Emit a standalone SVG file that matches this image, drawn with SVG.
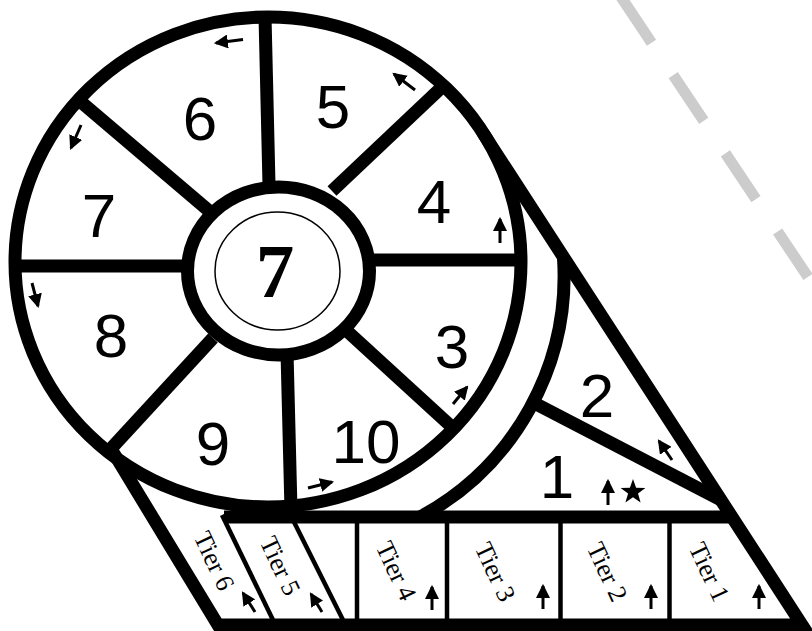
<svg xmlns="http://www.w3.org/2000/svg" width="812" height="631" viewBox="0 0 812 631">
<defs>
<style>
.k{fill:none;stroke:#000;stroke-width:13;}
.thin{fill:none;stroke:#000;stroke-width:4.5;}
.num{font-family:"Liberation Sans",Arial,sans-serif;font-size:62px;text-anchor:middle;fill:#000;}
.tier{font-family:"Liberation Serif","Times New Roman",serif;font-size:26px;text-anchor:middle;dominant-baseline:central;fill:#000;}
.arr{stroke:#000;stroke-width:3;fill:none;marker-end:url(#ah);}
</style>
<marker id="ah" viewBox="0 0 10 10" refX="8.5" refY="5" markerWidth="14" markerHeight="14" markerUnits="userSpaceOnUse" orient="auto">
<path d="M0,0 L10,5 L0,10 z" fill="#000"/>
</marker>
</defs>
<rect width="812" height="631" fill="#fff"/>

<g id="dashed-line">
<path d="M621,-3 L808,277" fill="none" stroke="#cccccc" stroke-width="11" stroke-dasharray="55 39"/>
</g>

<g id="outline">
<path d="M113,452 L218,625 L802,625 L483,133" class="k" stroke-width="14" stroke-linejoin="miter"/>
<path d="M563.5,258 A274,274 0 0 1 420,517" class="k" stroke-width="14"/>
<line x1="538" y1="405" x2="721" y2="500" class="k" stroke-width="12"/>
<line x1="224" y1="517" x2="732" y2="517" class="k" stroke-width="12"/>
<ellipse cx="268" cy="262" rx="253" ry="245" class="k" stroke-width="14"/>
</g>

<g id="spokes">
<line x1="265" y1="16" x2="269" y2="185" class="k"/>
<line x1="442" y1="87" x2="332" y2="191" class="k"/>
<line x1="368" y1="260" x2="522" y2="260" class="k"/>
<line x1="347" y1="331" x2="453" y2="428" class="k"/>
<line x1="287" y1="352" x2="291" y2="510" class="k"/>
<line x1="213" y1="338" x2="107" y2="453" class="k"/>
<line x1="15" y1="266" x2="188" y2="266" class="k"/>
<line x1="81" y1="102" x2="208" y2="210" class="k"/>
</g>

<g id="hub">
<ellipse cx="278.5" cy="271" rx="91" ry="84" fill="#fff" stroke="#000" stroke-width="13"/>
<ellipse cx="277.5" cy="271" rx="62.5" ry="59" fill="none" stroke="#000" stroke-width="1.5"/>
<text x="275" y="297" font-family="'Liberation Serif','Times New Roman',serif" font-weight="bold" font-size="77" text-anchor="middle">7</text>
</g>

<g id="sector-6"><text class="num" x="200" y="140">6</text><line class="arr" x1="243" y1="39.5" x2="216" y2="43"/></g>
<g id="sector-5"><text class="num" x="333" y="128">5</text><line class="arr" x1="415" y1="90" x2="394" y2="74"/></g>
<g id="sector-4"><text class="num" x="434" y="223">4</text><line class="arr" x1="500" y1="243" x2="500" y2="219"/></g>
<g id="sector-3"><text class="num" x="452" y="368">3</text><line class="arr" x1="453" y1="404" x2="467" y2="387"/></g>
<g id="sector-10"><text class="num" x="366" y="463">10</text><line class="arr" x1="308" y1="488" x2="332" y2="482"/></g>
<g id="sector-9"><text class="num" x="213" y="465">9</text></g>
<g id="sector-8"><text class="num" x="111" y="357">8</text><line class="arr" x1="32" y1="283" x2="38" y2="306"/></g>
<g id="sector-7"><text class="num" x="99" y="237">7</text><line class="arr" x1="81" y1="125" x2="71" y2="148"/></g>

<g id="region-2"><text class="num" x="597" y="417">2</text><line class="arr" x1="672" y1="460" x2="659" y2="441"/></g>
<g id="region-1"><text class="num" x="557" y="498">1</text><line class="arr" x1="608" y1="505" x2="608" y2="481"/>
<polygon points="633,479 636.1,487.8 645.4,488 638,493.6 640.6,502.5 633,497.2 625.4,502.5 628.1,493.6 620.6,488 629.9,487.8" fill="#000"/></g>

<g id="tier-dividers">
<line x1="222" y1="515" x2="273" y2="620" class="thin"/>
<line x1="293" y1="520" x2="343" y2="620" class="thin"/>
<line x1="357" y1="517" x2="357" y2="620" class="thin"/>
<line x1="447" y1="517" x2="447" y2="620" class="thin"/>
<line x1="560.5" y1="517" x2="560.5" y2="620" class="thin"/>
<line x1="669.5" y1="517" x2="669.5" y2="620" class="thin"/>
</g>

<g id="tier-6"><text class="tier" transform="translate(214,561) rotate(65)">Tier 6</text><line class="arr" x1="255" y1="612" x2="243" y2="593"/></g>
<g id="tier-5"><text class="tier" transform="translate(280,566) rotate(65)">Tier 5</text><line class="arr" x1="322" y1="612" x2="311" y2="594"/></g>
<g id="tier-4"><text class="tier" transform="translate(396,571) rotate(65)">Tier 4</text><line class="arr" x1="432" y1="610" x2="432" y2="587"/></g>
<g id="tier-3"><text class="tier" transform="translate(495,572) rotate(65)">Tier 3</text><line class="arr" x1="543" y1="609" x2="543" y2="586"/></g>
<g id="tier-2"><text class="tier" transform="translate(607,572) rotate(65)">Tier 2</text><line class="arr" x1="651" y1="609" x2="651" y2="586"/></g>
<g id="tier-1"><text class="tier" transform="translate(709,572) rotate(65)">Tier 1</text><line class="arr" x1="759" y1="609" x2="759" y2="586"/></g>
</svg>
